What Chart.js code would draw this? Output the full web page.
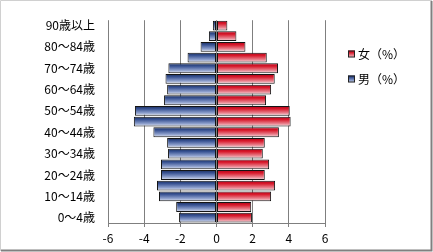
<!DOCTYPE html>
<html>
<head>
<meta charset="utf-8">
<script src="https://cdn.jsdelivr.net/npm/chart.js@4.4.1/dist/chart.umd.min.js"></script>
<style>
  html, body { margin: 0; padding: 0; background: #ffffff; }
  #wrap { width: 433px; height: 252px; position: relative; }
</style>
</head>
<body>
<div id="wrap"><canvas id="c" width="433" height="252"></canvas></div>
<script>
// ---- data ----
const categories = ['0～4歳','5～9歳','10～14歳','15～19歳','20～24歳','25～29歳','30～34歳','35～39歳','40～44歳','45～49歳','50～54歳','55～59歳','60～64歳','65～69歳','70～74歳','75～79歳','80～84歳','85～89歳','90歳以上'];
const maleValues   = [-2.07,-2.23,-3.18,-3.29,-3.07,-3.07,-2.68,-2.73,-3.49,-4.57,-4.51,-2.90,-2.73,-2.82,-2.66,-1.60,-0.88,-0.42,-0.20];
const femaleValues = [1.96,1.92,3.02,3.24,2.67,2.91,2.56,2.67,3.45,4.10,4.05,2.74,3.02,3.22,3.40,2.78,1.60,1.10,0.60];
const seriesNames  = ['男（%）','女（%）'];
const xTicks = [-6,-4,-2,0,2,4,6];

const FONT = "'Noto Sans CJK JP', 'Noto Sans', sans-serif";
const BAR_PCT = 0.92;

const palettes = {
  male:   ['#182c5c', '#3a5494', '#8c9ecb', '#e4e8f3'],
  female: ['#b00018', '#d81a2c', '#e8808c', '#f8e2e6']
};
function makeGrad(ctx, y0, y1, pal) {
  const g = ctx.createLinearGradient(0, y0, 0, y1);
  g.addColorStop(0, pal[0]);
  g.addColorStop(0.3, pal[1]);
  g.addColorStop(0.7, pal[2]);
  g.addColorStop(1, pal[3]);
  return g;
}
function barFill(pal) {
  return function (c) {
    const chart = c.chart;
    const ys = chart.scales && chart.scales.y;
    if (c.type !== 'data' || !ys || !chart.chartArea) return pal[1];
    const yc = ys.getPixelForValue(c.dataIndex);
    const h = (ys.height / categories.length) * BAR_PCT;
    return makeGrad(chart.ctx, yc - h / 2, yc + h / 2, pal);
  };
}

const frameAndLegend = {
  id: 'frameAndLegend',
  afterDraw(chart) {
    const ctx = chart.ctx;
    ctx.save();
    // legend
    const items = [
      { text: seriesNames[1], pal: palettes.female, y: 54 },
      { text: seriesNames[0], pal: palettes.male, y: 79 }
    ];
    ctx.font = '12px ' + FONT;
    ctx.textBaseline = 'middle';
    ctx.textAlign = 'left';
    items.forEach(it => {
      const x0 = 348, s = 7, y0 = it.y - 3.5;
      ctx.fillStyle = makeGrad(ctx, y0, y0 + s, it.pal);
      ctx.fillRect(x0, y0, s, s);
      ctx.strokeStyle = '#222';
      ctx.lineWidth = 1;
      ctx.strokeRect(x0 + 0.5, y0 + 0.5, s - 1, s - 1);
      ctx.fillStyle = '#000';
      ctx.fillText(it.text, 358, it.y);
    });
    // outer frame
    ctx.lineWidth = 1;
    ctx.strokeStyle = '#d0d0d0';
    ctx.beginPath();
    ctx.moveTo(0.5, 251); ctx.lineTo(0.5, 0.5); ctx.lineTo(432, 0.5);
    ctx.stroke();
    ctx.strokeStyle = '#808080';
    ctx.lineWidth = 2;
    ctx.beginPath();
    ctx.moveTo(1, 250.5); ctx.lineTo(431.5, 250.5); ctx.lineTo(431.5, 1);
    ctx.stroke();
    ctx.restore();
  }
};

new Chart(document.getElementById('c'), {
  type: 'bar',
  data: {
    labels: categories,
    datasets: [
      {
        label: seriesNames[0],
        data: maleValues,
        backgroundColor: barFill(palettes.male),
        borderColor: '#141414',
        borderWidth: 1,
        borderSkipped: false,
        categoryPercentage: 1,
        barPercentage: BAR_PCT
      },
      {
        label: seriesNames[1],
        data: femaleValues,
        backgroundColor: barFill(palettes.female),
        borderColor: '#141414',
        borderWidth: 1,
        borderSkipped: false,
        categoryPercentage: 1,
        barPercentage: BAR_PCT
      }
    ]
  },
  options: {
    indexAxis: 'y',
    responsive: false,
    animation: false,
    devicePixelRatio: 1,
    layout: { padding: { left: 0, right: 108, top: 15, bottom: 0 } },
    plugins: {
      legend: { display: false },
      tooltip: { enabled: false }
    },
    scales: {
      x: {
        stacked: true,
        min: -6,
        max: 6,
        afterBuildTicks(scale) { scale.ticks = xTicks.map(v => ({ value: v })); },
        afterFit(scale) { scale.height = 29; },
        grid: { color: '#7f7f7f', lineWidth: 1, tickLength: 4, drawTicks: true, tickColor: '#7f7f7f' },
        border: { display: true, color: '#7f7f7f', width: 1 },
        ticks: { color: '#000', font: { family: FONT, size: 12 }, padding: 4, maxRotation: 0 }
      },
      y: {
        stacked: true,
        reverse: true,
        afterFit(scale) { scale.width = 108; },
        grid: { display: false, drawTicks: false },
        border: { display: false },
        ticks: {
          autoSkip: false,
          color: '#000',
          padding: 13,
          font: { family: FONT, size: 12 },
          callback: function (v, i) { return i % 2 === 0 ? categories[i] : ''; }
        }
      }
    }
  },
  plugins: [frameAndLegend]
});
</script>
</body>
</html>
